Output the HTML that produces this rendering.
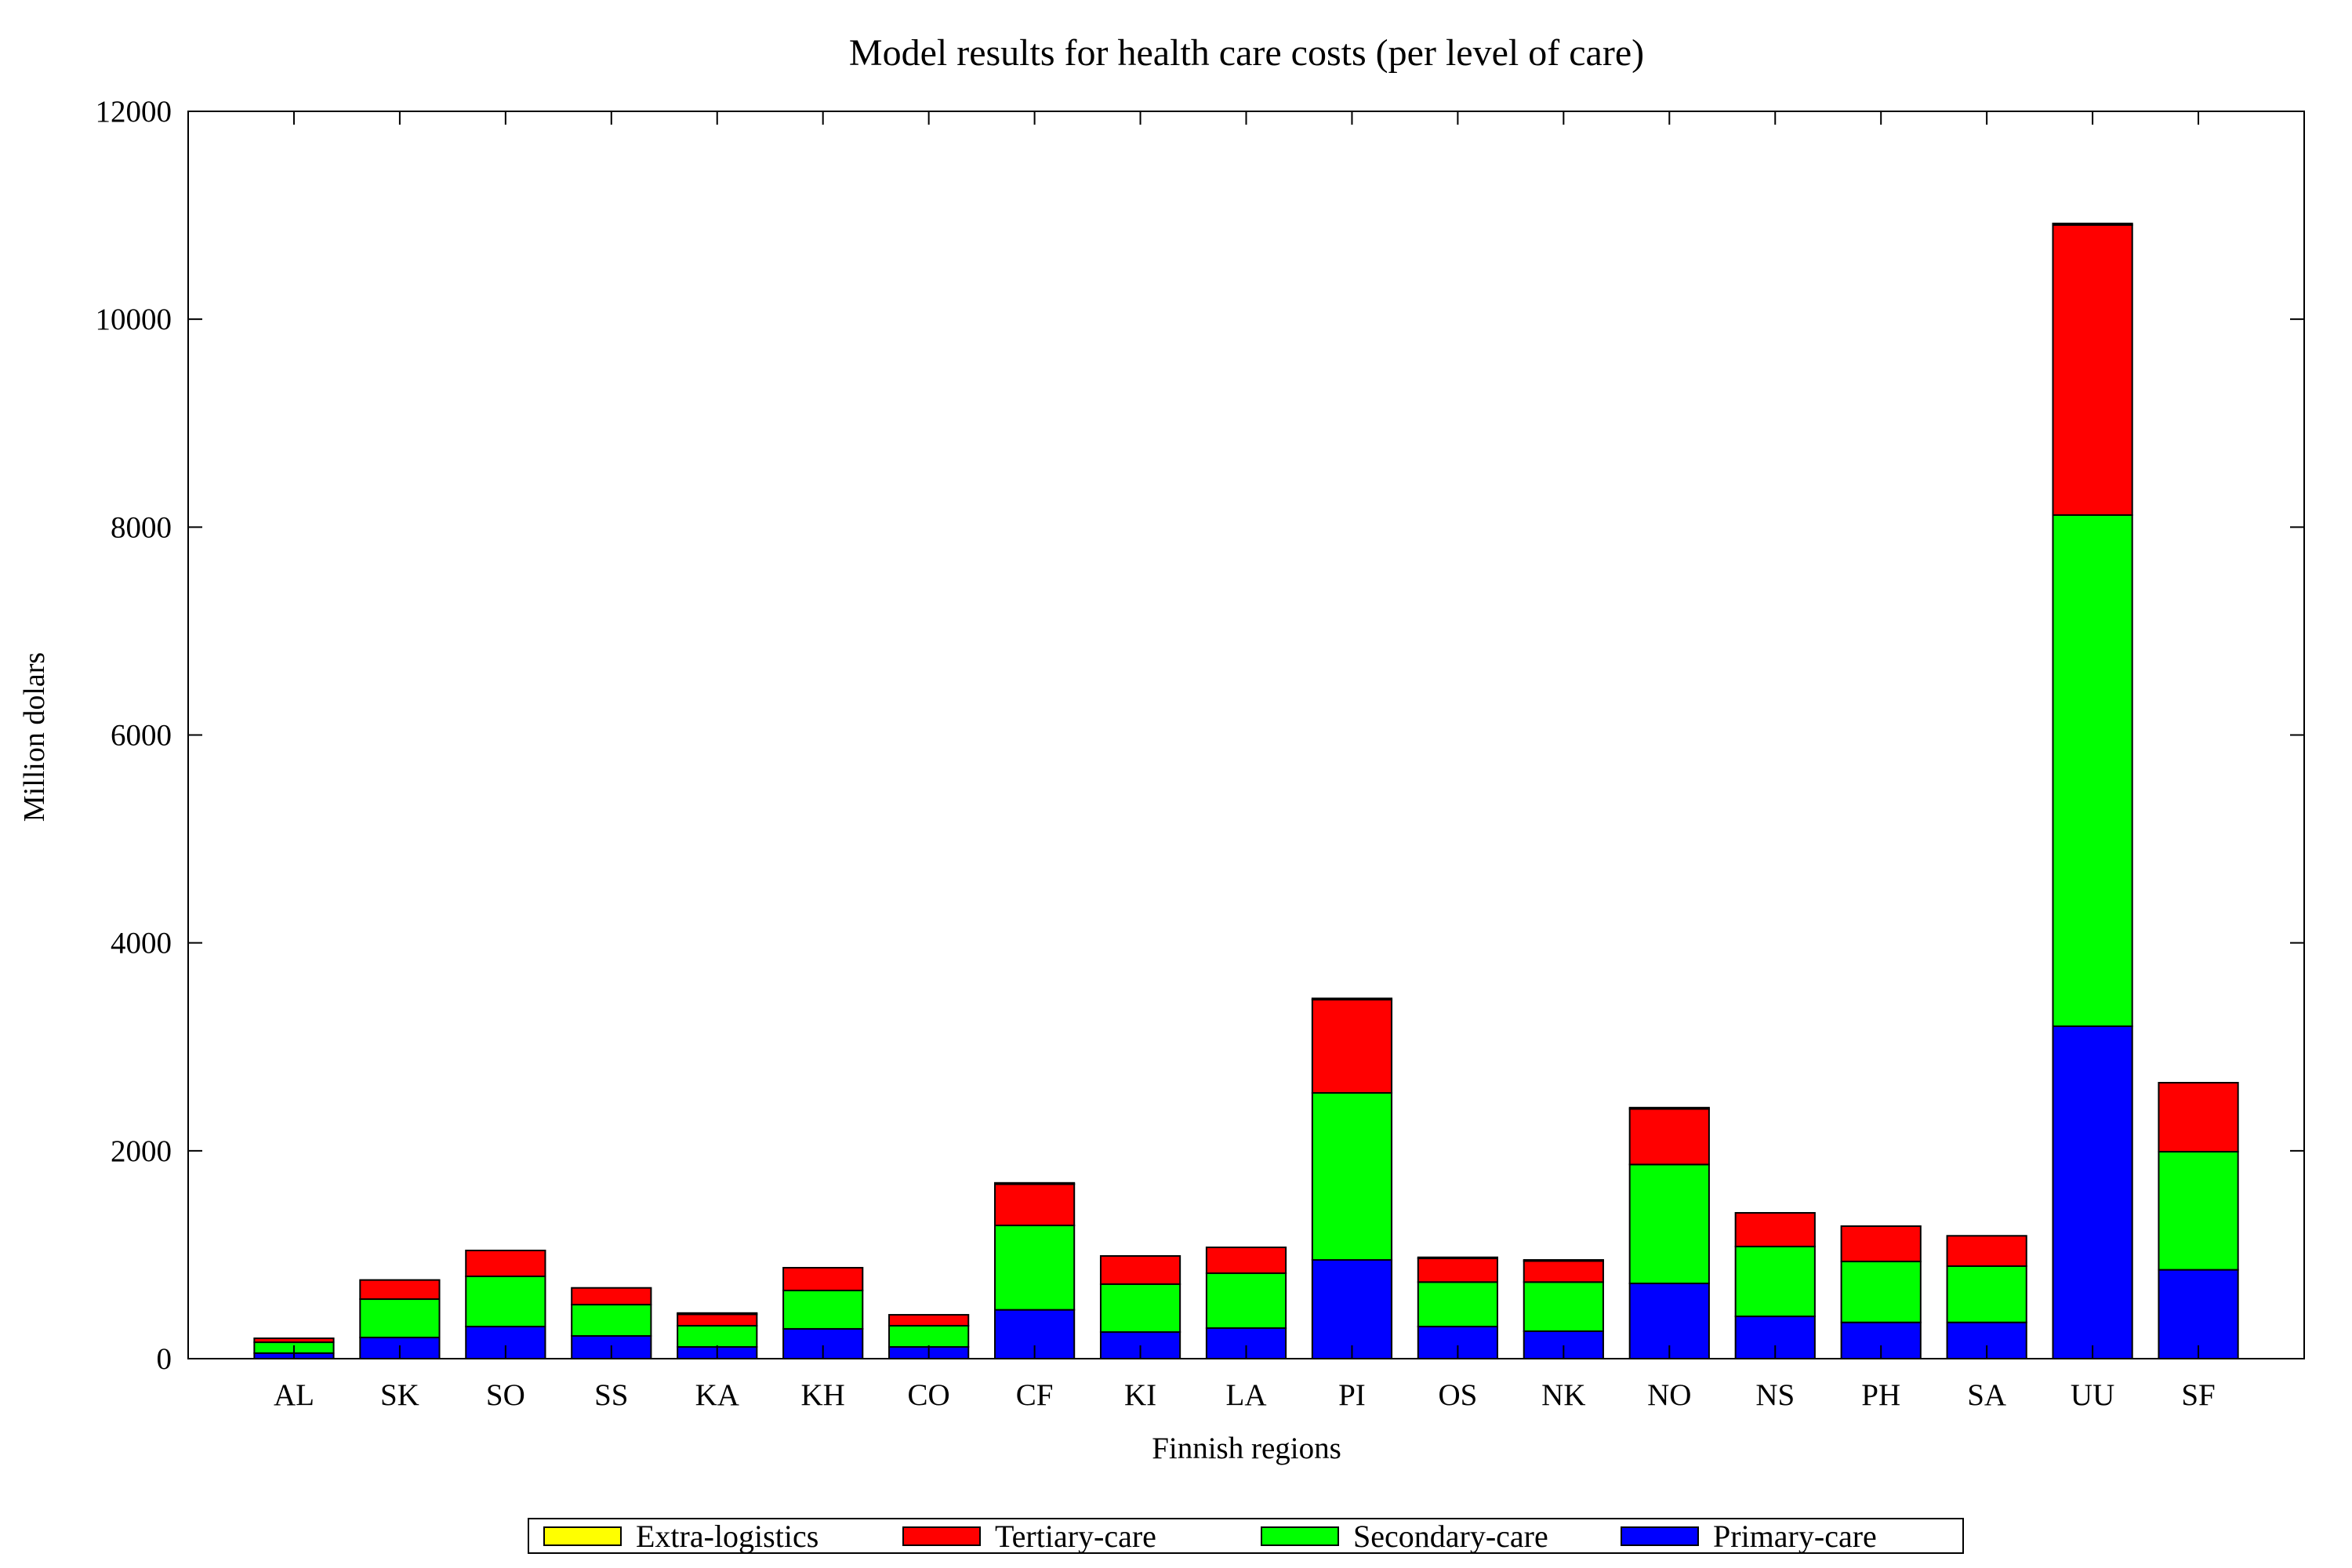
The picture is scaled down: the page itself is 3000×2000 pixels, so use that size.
<!DOCTYPE html>
<html><head><meta charset="utf-8"><style>
html,body{margin:0;padding:0;background:#fff;}
svg{display:block;font-family:"Liberation Serif",serif;}
</style></head><body>
<svg id="chart" width="3000" height="2000" viewBox="0 0 3000 2000" xmlns="http://www.w3.org/2000/svg">
<rect width="3000" height="2000" fill="#fff"/>
<text x="1590" y="83" font-size="48" text-anchor="middle">Model results for health care costs (per level of care)</text>
<text transform="translate(56,940) rotate(-90)" font-size="38" text-anchor="middle">Million dolars</text>
<text x="1590" y="1860" font-size="39" text-anchor="middle">Finnish regions</text>
<g id="bars"></g>
<g id="axes"></g>
<g id="legend"></g>
</svg>
<script>
const categories = ["AL","SK","SO","SS","KA","KH","CO","CF","KI","LA","PI","OS","NK","NO","NS","PH","SA","UU","SF"];
const primary   = [53,204,309,219,113,287,113,470,256,294,950,309,264,724,407,349,349,3198,855];
const secondary = [105,369,483,301,204,369,204,812,461,528,1607,428,473,1144,672,586,541,4918,1136];
const tertiary  = [38,184,249,161,110,219,105,397,271,249,897,228,203,535,324,340,292,2791,664];
const extra     = [0,0,0,0,12,0,0,12,0,0,12,10,10,12,0,0,0,14,0];
const yTicks = [0,2000,4000,6000,8000,10000,12000];
const yTickLabels = ["0","2000","4000","6000","8000","10000","12000"];

const NS="http://www.w3.org/2000/svg";
const L=240,R=2939,T=142,B=1733,YMAX=12000;
const step=(R-L)/(categories.length+1);
const bw=step*0.75;
function xs(i){return L+step*(i+1);}
function ys(v){return B-(v/YMAX)*(B-T);}
function mk(tag,attrs,parent){const e=document.createElementNS(NS,tag);for(const k in attrs)e.setAttribute(k,attrs[k]);parent.appendChild(e);return e;}

const bars=document.getElementById('bars');
const series=[[primary,"#0000ff","primary-care"],[secondary,"#00ff00","secondary-care"],[tertiary,"#ff0000","tertiary-care"],[extra,"#ffff00","extra-logistics"]];
categories.forEach((c,i)=>{
  let base=0;
  series.forEach(([arr,col,nm])=>{
    const v=arr[i];
    if(v<=0)return;
    const y0=ys(base),y1=ys(base+v);
    const r=mk('rect',{x:xs(i)-bw/2,y:y1,width:bw,height:y0-y1,fill:col,stroke:"#000","stroke-width":2},bars);
    
    
    base+=v;
  });
});

const axes=document.getElementById('axes');
const frame=mk('rect',{x:L,y:T,width:R-L,height:B-T,fill:"none",stroke:"#000","stroke-width":2},axes);


yTicks.forEach((v,k)=>{
  const y=ys(v);
  mk('line',{x1:L,y1:y,x2:L+18,y2:y,stroke:"#000","stroke-width":2},axes);
  mk('line',{x1:R,y1:y,x2:R-18,y2:y,stroke:"#000","stroke-width":2},axes);
  const t=mk('text',{x:219,y:y+13,"font-size":39,"text-anchor":"end"},axes);
  
  
  t.textContent=yTickLabels[k];
});
categories.forEach((c,i)=>{
  const x=xs(i);
  mk('line',{x1:x,y1:T,x2:x,y2:T+17,stroke:"#000","stroke-width":2},axes);
  mk('line',{x1:x,y1:B,x2:x,y2:B-17,stroke:"#000","stroke-width":2},axes);
  const t=mk('text',{x:x,y:1792,"font-size":39,"text-anchor":"middle"},axes);
  
  
  t.textContent=c;
});

const lg=document.getElementById('legend');
mk('rect',{x:674,y:1937,width:1830,height:44,fill:"#fff",stroke:"#000","stroke-width":2},lg);
const entries=[["Extra-logistics","#ffff00",694],["Tertiary-care","#ff0000",1152],["Secondary-care","#00ff00",1609],["Primary-care","#0000ff",2068]];
entries.forEach(([lab,col,x])=>{
  const g=mk('g',{},lg);
  
  
  mk('rect',{x:x,y:1948,width:98,height:23,fill:col,stroke:"#000","stroke-width":2},g);
  const t=mk('text',{x:x+117,y:1973,"font-size":40},g);
  t.textContent=lab;
});
</script>
</body></html>
